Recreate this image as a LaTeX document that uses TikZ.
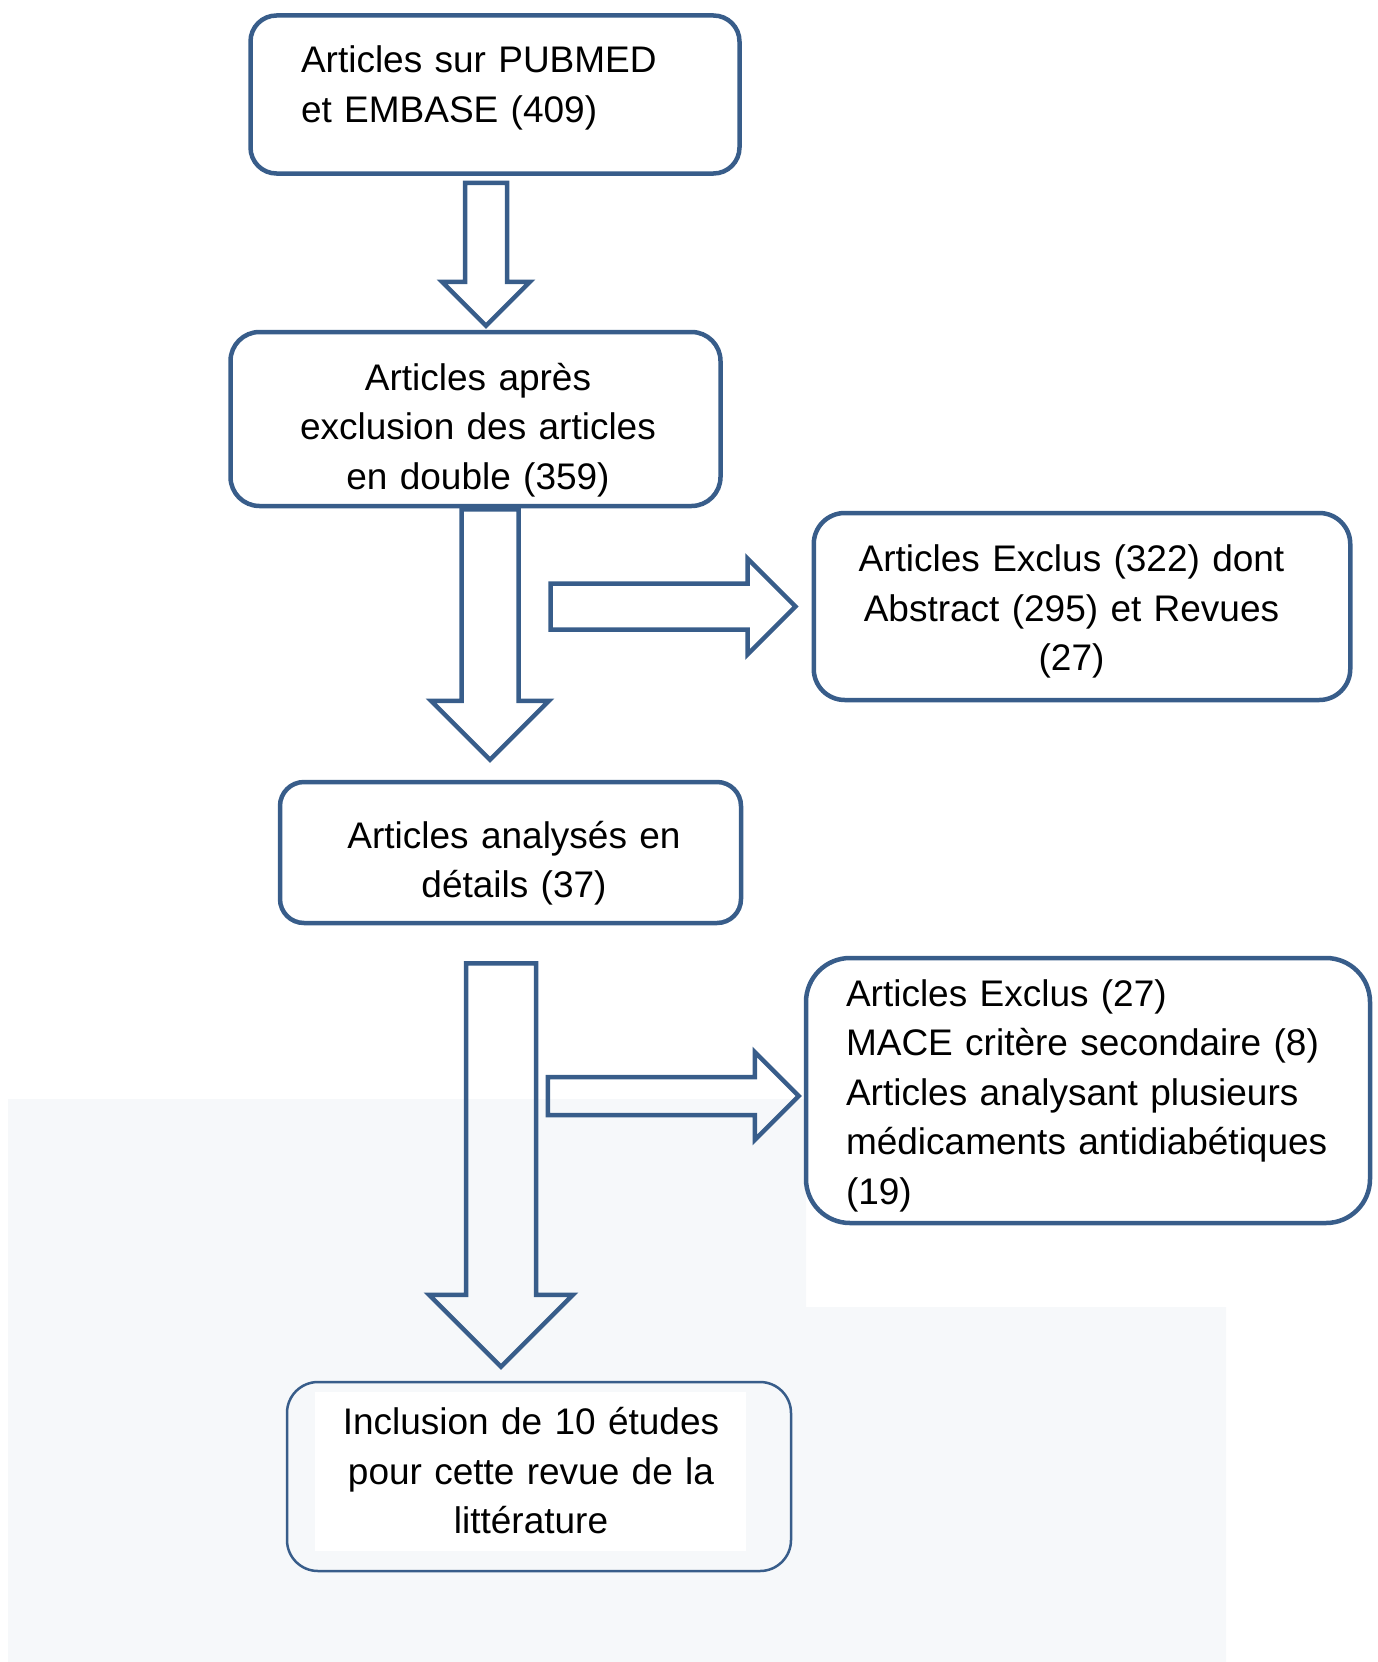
\documentclass[tikz,border=0pt]{standalone}
\usepackage{fontspec}
\setmainfont{Liberation Sans}
\usepackage{tikz}
\usetikzlibrary{calc}

\definecolor{lineblue}{HTML}{385D8A}
\definecolor{pagegray}{RGB}{246,248,250}

% Big hollow arrows: #1 tail, #2 tip, #3 half shaft, #4 half head
\newcommand{\blockdown}[4]{%
    \draw [blockarrow] ($(#1)+(-#3,0)$) -- ($(#2)+(-#3,#4)$) -- ($(#2)+(-#4,#4)$) -- (#2)
        -- ($(#2)+(#4,#4)$) -- ($(#2)+(#3,#4)$) -- ($(#1)+(#3,0)$) -- cycle;}
\newcommand{\blockright}[4]{%
    \draw [blockarrow] ($(#1)+(0,#3)$) -- ($(#2)+(-#4,#3)$) -- ($(#2)+(-#4,#4)$) -- (#2)
        -- ($(#2)+(-#4,-#4)$) -- ($(#2)+(-#4,-#3)$) -- ($(#1)+(0,-#3)$) -- cycle;}

\begin{document}
\begin{tikzpicture}[
    % GLOBAL CFG
    x=1pt, y=1pt,
    % Styles
    box/.style={% For the rounded boxes
        rectangle,
        draw=lineblue,
        line width=4.5pt,
        rounded corners=#1,
        inner sep=0pt,
        },
    box/.default=28pt,
    txt/.style={% For the text inside the boxes
        font=\fontsize{37}{49.5}\selectfont,
        inner sep=0pt,
        text height=0pt,
        text depth=0pt,
        },
    blockarrow/.style={% For the hollow arrows
        draw=lineblue,
        line width=4.5pt,
        line join=miter,
        },
    ]

    \useasboundingbox (0,0) rectangle (1377,-1662);

    % grey page background at the bottom
    \fill [pagegray] (8,-1099) -- (806,-1099) -- (806,-1307) -- (1226,-1307)
        -- (1226,-1662) -- (8,-1662) -- cycle;
    % white patch behind the last text
    \fill [white] (315,-1392) rectangle (746,-1551);

    % Draw the boxes
    \node [box=26pt, minimum width=489pt, minimum height=158pt,
        label={[txt, text width=400pt, align=left, xshift=6pt, yshift=21.5pt]center:{Articles sur PUBMED\\et EMBASE (409)}}]
        (pubmed) at (495,-94.5) {};
    \node [box=29pt, minimum width=490pt, minimum height=174pt,
        label={[txt, text width=380pt, align=center, xshift=2.5pt, yshift=28.6pt]center:{Articles après\\exclusion des articles\\en double (359)}}]
        (doublons) at (475.5,-419) {};
    \node [box=31pt, minimum width=536.5pt, minimum height=187pt,
        label={[txt, text width=440pt, align=center, xshift=-10.5pt, yshift=34.9pt]center:{Articles Exclus (322) dont\\Abstract (295) et Revues\\(27)}}]
        (exclus1) at (1082,-606.5) {};
    \node [box=24pt, minimum width=461pt, minimum height=141pt,
        label={[txt, text width=360pt, align=center, xshift=3.5pt, yshift=4.5pt]center:{Articles analysés en\\détails (37)}}]
        (analyses) at (510.5,-852.5) {};
    \node [box=44pt, minimum width=564pt, minimum height=265pt,
        label={[txt, text width=490pt, align=left, xshift=3pt, yshift=84.5pt]center:{Articles Exclus (27)\\MACE critère secondaire (8)\\Articles analysant plusieurs\\médicaments antidiabétiques\\(19)}}]
        (exclus2) at (1088,-1090.5) {};
    \node [box=31pt, line width=2.5pt, minimum width=504pt, minimum height=189pt,
        label={[txt, text width=400pt, align=center, xshift=-8pt, yshift=42pt]center:{Inclusion de 10 études\\pour cette revue de la\\littérature}}]
        (inclusion) at (539,-1476.5) {};

    % Arrow ends
    \coordinate (a1top) at ($(pubmed.south)+(-9,-7)$);
    \coordinate (a1tip) at ($(doublons.north)+(10.5,4)$);
    \coordinate (a2top) at ($(doublons.south)+(14.5,-1)$);
    \coordinate (a2tip) at ($(analyses.north)+(-20.5,20)$);
    \coordinate (a3top) at ($(exclus1.west)+(-261,0)$);
    \coordinate (a3tip) at ($(exclus1.west)+(-16,0)$);
    \coordinate (a4top) at ($(analyses.south)+(-9.5,-38)$);
    \coordinate (a4tip) at ($(inclusion.north)+(-38,14)$);
    \coordinate (a5top) at ($(exclus2.west)+(-256,-5.5)$);
    \coordinate (a5tip) at ($(exclus2.west)+(-5,-5.5)$);

    % Drawing arrows
    \blockdown{a1top}{a1tip}{21}{44}
    \blockdown{a2top}{a2tip}{28.5}{59}
    \blockright{a3top}{a3tip}{23}{48}
    \blockdown{a4top}{a4tip}{35}{72}
    \blockright{a5top}{a5tip}{19}{44}

\end{tikzpicture}
\end{document}
